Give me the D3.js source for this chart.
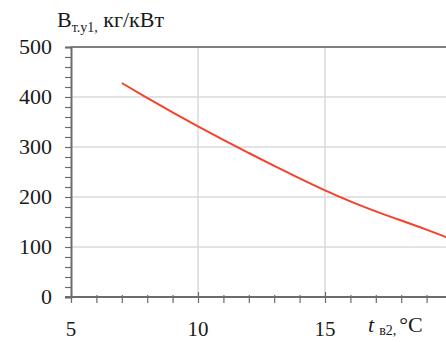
<!DOCTYPE html>
<html>
<head>
<meta charset="utf-8">
<script src="https://cdn.jsdelivr.net/npm/d3@7"></script>
<style>
body { margin: 0; background: #fff; }
svg { font-family: "Liberation Serif", "Times New Roman", Times, "DejaVu Serif", serif; }
text { fill: #1a1a1a; }
</style>
</head>
<body>
<svg id="chart"></svg>
<script>
// values
let tempX = [7, 8, 9, 10, 11, 12, 13, 14, 15, 16, 17, 18, 19, 19.8];
let consumption = [428, 398, 369, 341, 314, 288, 262, 237, 213, 191, 171, 153, 135, 119];
let xTicks = [5, 10, 15];
let yTicks = [0, 100, 200, 300, 400, 500];

let dataset = tempX.map((t, i) => ({ t: t, b: consumption[i] }));

function makeChart(dataset) {
	let w = 446;
	let h = 342;
	let marginT = 47;
	let marginL = 71;
	let marginB = 45;
	let serif = '"Liberation Serif", "Times New Roman", Times, serif';

	let chart = d3.select('#chart')
		.attr('width', w)
		.attr('height', h);

	let xScale = d3.scaleLinear()
		.domain([5, 20])
		.range([marginL, marginL + 15 * 25.4]);

	let yScale = d3.scaleLinear()
		.domain([0, 500])
		.range([h - marginB, marginT]);

	// grid
	chart.append('g')
		.selectAll('line')
		.data(yTicks.filter(d => d > 0 && d < 500))
		.enter()
		.append('line')
		.attr('x1', marginL)
		.attr('x2', w)
		.attr('y1', d => yScale(d))
		.attr('y2', d => yScale(d))
		.attr('stroke', '#d9dadb')
		.attr('stroke-width', 1.5);

	chart.append('g')
		.selectAll('line')
		.data(xTicks.filter(d => d > 5))
		.enter()
		.append('line')
		.attr('x1', d => xScale(d))
		.attr('x2', d => xScale(d))
		.attr('y1', yScale(0))
		.attr('y2', yScale(500))
		.attr('stroke', '#d9dadb')
		.attr('stroke-width', 1.5);

	// top frame line
	chart.append('line')
		.attr('x1', marginL)
		.attr('x2', w)
		.attr('y1', yScale(500))
		.attr('y2', yScale(500))
		.attr('stroke', '#7d7f82')
		.attr('stroke-width', 2);

	// y axis
	let yAxis = d3.axisLeft(yScale)
		.tickValues(d3.range(0, 501, 20))
		.tickSize(6)
		.tickFormat('');
	let gy = chart.append('g')
		.attr('transform', `translate(${marginL},0)`)
		.call(yAxis);
	gy.selectAll('line').attr('stroke', '#6a6c6f').attr('stroke-width', 1.2);
	gy.select('.domain').attr('stroke', '#6a6c6f').attr('stroke-width', 2);

	chart.append('g')
		.selectAll('text')
		.data(yTicks)
		.enter()
		.append('text')
		.attr('x', 52)
		.attr('y', d => yScale(d) + 7)
		.attr('text-anchor', 'end')
		.attr('font-family', serif)
		.style('font-size', '22px')
		.text(d => d);

	// x axis
	let xAxis = d3.axisBottom(xScale)
		.tickValues(d3.range(5, 20, 1))
		.tickSize(0)
		.tickFormat('');
	let gx = chart.append('g')
		.attr('transform', `translate(0,${yScale(0)})`)
		.call(xAxis);
	gx.select('.domain').remove();
	gx.append('line')
		.attr('x1', marginL - 6)
		.attr('x2', w)
		.attr('stroke', '#6a6c6f')
		.attr('stroke-width', 2);
	gx.selectAll('.tick').append('line')
		.attr('y1', d => xTicks.includes(d) ? -5 : -2)
		.attr('y2', 6)
		.attr('stroke', '#6a6c6f')
		.attr('stroke-width', 1.2);

	chart.append('g')
		.selectAll('text')
		.data(xTicks)
		.enter()
		.append('text')
		.attr('x', d => xScale(d))
		.attr('y', 336)
		.attr('text-anchor', 'middle')
		.attr('font-family', serif)
		.style('font-size', '21px')
		.text(d => d);

	// curve
	let line = d3.line()
		.x(d => xScale(d.t))
		.y(d => yScale(d.b))
		.curve(d3.curveBasis);

	chart.append('path')
		.datum(dataset)
		.attr('d', line)
		.attr('fill', 'none')
		.attr('stroke', '#f7412a')
		.attr('stroke-width', 2);

	// axis titles
	let yTitle = chart.append('text')
		.attr('x', 57)
		.attr('y', 27)
		.attr('font-family', serif)
		.style('font-size', '22px');
	yTitle.append('tspan').text('B');
	yTitle.append('tspan').attr('dy', 5).style('font-size', '14px').text('т.у1,');
	yTitle.append('tspan').attr('dy', -5).text(' кг/кВт');

	let xTitle = chart.append('text')
		.attr('x', 368)
		.attr('y', 332)
		.attr('font-family', serif)
		.style('font-size', '22px');
	xTitle.append('tspan').style('font-style', 'italic').text('t');
	xTitle.append('tspan').attr('dx', 5).attr('dy', 3).style('font-size', '14px').text('в2,');
	xTitle.append('tspan').attr('dx', 3).attr('dy', -3).text('°C');
}

window.onload = function () {
	makeChart(dataset);
}
</script>
</body>
</html>
